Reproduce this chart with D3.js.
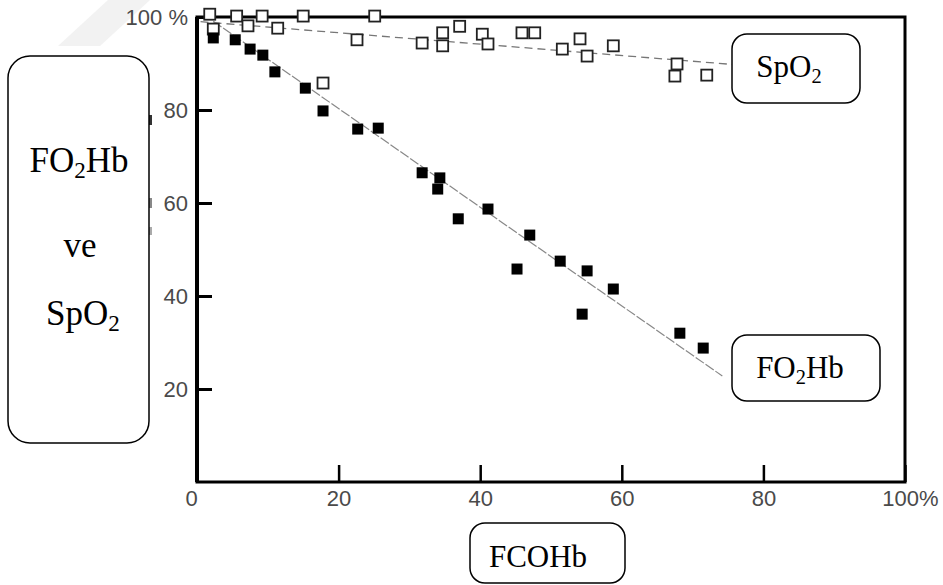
<!DOCTYPE html>
<html>
<head>
<meta charset="utf-8">
<style>
  body { margin: 0; background: #fff; }
  svg { display: block; }
  .tick text { font-family: "Liberation Sans", Arial, sans-serif; fill: #4a4a4a; }
  .box text { font-family: "Liberation Serif", "Times New Roman", serif; fill: #000; }
</style>
</head>
<body>
<div id="chart"></div>
<script src="https://d3js.org/d3.v7.min.js"></script>
<script>
// FCOHb (%) against FO2Hb and SpO2 (%)
const spo2X = [1.8, 2.3, 5.6, 7.2, 9.2, 11.4, 15.0, 17.8, 22.6, 25.1, 31.8, 34.7, 34.7, 37.1, 40.3, 41.1,
               45.9, 47.7, 51.6, 54.1, 55.1, 58.8, 67.8, 67.5, 72.0];
const spo2Y = [100.6, 97.4, 100.2, 98.1, 100.2, 97.6, 100.2, 85.8, 95.1, 100.2, 94.4, 96.6, 93.8, 98.0, 96.3, 94.2,
               96.6, 96.6, 93.1, 95.3, 91.6, 93.8, 89.9, 87.3, 87.5];

const fo2hbX = [2.3, 5.4, 7.5, 9.3, 11.0, 15.3, 17.8, 22.7, 25.6, 31.8, 34.3, 34.0, 36.9, 41.1, 47.0,
                45.2, 51.3, 55.1, 54.4, 58.8, 68.2, 71.5];
const fo2hbY = [95.5, 95.1, 93.1, 91.8, 88.2, 84.7, 79.8, 75.9, 76.1, 66.5, 65.4, 63.0, 56.6, 58.7, 53.1,
                45.8, 47.5, 45.4, 36.1, 41.5, 32.0, 28.8];

// regression lines, [start, end]
const spo2FitX = [0.5, 75.6];
const spo2FitY = [99.0, 89.8];
const fo2hbFitX = [2.3, 74.2];
const fo2hbFitY = [99.1, 22.8];

const xTicks = [0, 20, 40, 60, 80, 100];
const xTickLabels = ['0', '20', '40', '60', '80', '100%'];
const yTicks = [20, 40, 60, 80, 100];
const yTickLabels = ['20', '40', '60', '80', '100 %'];

const width = 943, height = 585;

const svg = d3.select('#chart').append('svg')
    .attr('width', width)
    .attr('height', height);

svg.append('rect').attr('width', width).attr('height', height).attr('fill', '#fff');

// faint watermark band in the corner
svg.append('polygon')
    .attr('points', '58,46 108,0 150,0 100,46')
    .attr('fill', '#f2f2f2');

const x = d3.scaleLinear().domain([0, 100]).range([197, 905]);
const y = d3.scaleLinear().domain([0, 100]).range([482, 17]);

// axes, ticks pointing inward
const xAxis = svg.append('g')
    .attr('transform', `translate(0,${y(0)})`)
    .call(d3.axisBottom(x).tickValues(xTicks).tickSize(-17).tickPadding(8)
        .tickFormat((d, i) => xTickLabels[i]));
xAxis.select('.domain').remove();
xAxis.selectAll('.tick line').attr('stroke', '#000').attr('stroke-width', 2.5);
xAxis.selectAll('.tick text').attr('font-size', 22);
xAxis.selectAll('.tick').filter(d => d === 0).select('text').attr('dx', -6);
xAxis.selectAll('.tick').filter(d => d === 100).select('text').attr('dx', 5);

const yAxis = svg.append('g')
    .attr('transform', `translate(${x(0)},0)`)
    .call(d3.axisLeft(y).tickValues(yTicks).tickSize(-15).tickPadding(9)
        .tickFormat((d, i) => yTickLabels[i]));
yAxis.select('.domain').remove();
yAxis.selectAll('.tick line').attr('stroke', '#000').attr('stroke-width', 3);
yAxis.selectAll('.tick text').attr('font-size', 22);

// frame
svg.append('rect')
    .attr('x', x(0)).attr('y', y(100))
    .attr('width', x(100) - x(0)).attr('height', y(0) - y(100))
    .attr('fill', 'none').attr('stroke', '#000').attr('stroke-width', 3);
svg.append('line')
    .attr('x1', x(0)).attr('x2', x(0)).attr('y1', y(100)).attr('y2', y(0))
    .attr('stroke', '#000').attr('stroke-width', 4);

// fit lines
const line = d3.line().x(d => x(d[0])).y(d => y(d[1]));
svg.append('path')
    .datum(spo2FitX.map((v, i) => [v, spo2FitY[i]]))
    .attr('d', line)
    .attr('fill', 'none').attr('stroke', '#777').attr('stroke-width', 1.3)
    .attr('stroke-dasharray', '8,5');
svg.append('path')
    .datum(fo2hbFitX.map((v, i) => [v, fo2hbFitY[i]]))
    .attr('d', line)
    .attr('fill', 'none').attr('stroke', '#888').attr('stroke-width', 1.2)
    .attr('stroke-dasharray', '10,2');

// markers
const s = 11;
svg.append('g').selectAll('rect')
    .data(spo2X.map((v, i) => [v, spo2Y[i]]))
    .join('rect')
    .attr('x', d => x(d[0]) - s / 2)
    .attr('y', d => y(d[1]) - s / 2)
    .attr('width', s).attr('height', s)
    .attr('fill', '#fff').attr('stroke', '#222').attr('stroke-width', 1.8);

svg.append('g').selectAll('rect')
    .data(fo2hbX.map((v, i) => [v, fo2hbY[i]]))
    .join('rect')
    .attr('x', d => x(d[0]) - s / 2)
    .attr('y', d => y(d[1]) - s / 2)
    .attr('width', s).attr('height', s)
    .attr('fill', '#000');

// bits of the old axis title peeking out behind the left box
[[115, 10, '#333'], [198, 10, '#888'], [227, 8, '#aaa']].forEach(m => {
    svg.append('rect').attr('x', 149).attr('y', m[0]).attr('width', 3).attr('height', m[1]).attr('fill', m[2]);
});

// label boxes
function box(bx, by, bw, bh, r, lines, size) {
    const g = svg.append('g').attr('class', 'box');
    g.append('rect')
        .attr('x', bx).attr('y', by).attr('width', bw).attr('height', bh)
        .attr('rx', r).attr('ry', r)
        .attr('fill', '#fff').attr('stroke', '#000').attr('stroke-width', 1.5);
    lines.forEach(l => {
        const t = g.append('text')
            .attr('x', l.cx).attr('y', l.base)
            .attr('text-anchor', 'middle')
            .attr('font-size', size);
        l.parts.forEach(p => {
            if (p.sub) {
                t.append('tspan').attr('font-size', size * 0.66).attr('dy', size * 0.18).text(p.t);
            } else {
                t.append('tspan').attr('dy', p.after ? -size * 0.18 : 0).text(p.t);
            }
        });
    });
}

box(8, 56, 141, 387, 22, [
    { cx: 79, base: 172, parts: [{ t: 'FO' }, { t: '2', sub: true }, { t: 'Hb', after: true }] },
    { cx: 80, base: 257, parts: [{ t: 've' }] },
    { cx: 83, base: 325, parts: [{ t: 'SpO' }, { t: '2', sub: true }] }
], 35);

box(732, 34, 128, 69, 15, [
    { cx: 789, base: 77, parts: [{ t: 'SpO' }, { t: '2', sub: true }] }
], 31);

box(732, 335, 148, 66, 15, [
    { cx: 800, base: 378, parts: [{ t: 'FO' }, { t: '2', sub: true }, { t: 'Hb', after: true }] }
], 31);

box(470, 523, 155, 60, 15, [
    { cx: 538, base: 567, parts: [{ t: 'FCOHb' }] }
], 31);
</script>
</body>
</html>
